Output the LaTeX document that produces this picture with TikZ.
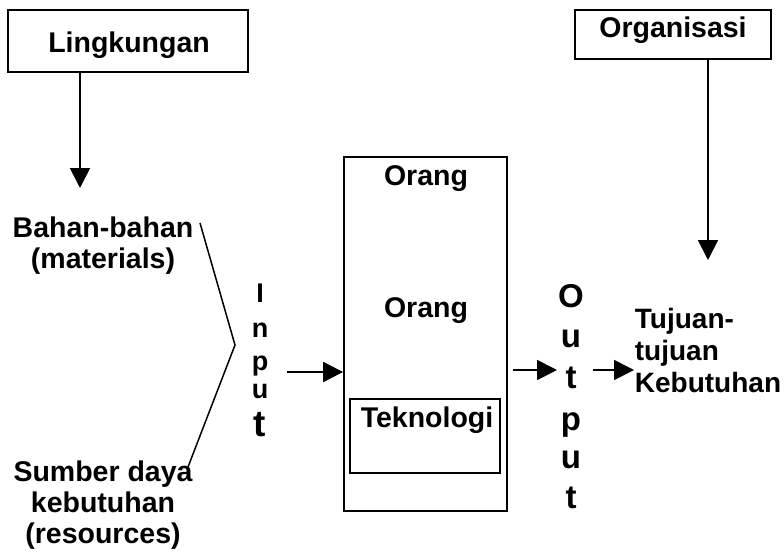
\documentclass[tikz,border=0pt]{standalone}
\usepackage{fontspec}
\setmainfont{Liberation Sans}
\usetikzlibrary{arrows.meta}

\begin{document}
\begin{tikzpicture}[x=1pt, y=-1pt, line width=1.8pt,
  box/.style={draw, rectangle, inner sep=0pt},
  lbl/.style={font=\fontsize{28.5}{31}\selectfont\bfseries, inner sep=0pt},
  inletter/.style={font=\fontsize{27}{27}\selectfont\bfseries, inner sep=0pt, anchor=base},
  outletter/.style={font=\fontsize{33}{33}\selectfont\bfseries, inner sep=0pt, anchor=base},
  arr/.style={-{Triangle[length=20pt,width=20pt]}}]
\useasboundingbox (0,0) rectangle (784,552);

% top boxes
\node[box, minimum width=240pt, minimum height=62pt] (ling) at (128,41) {};
\node[lbl, anchor=base] (lingtxt) at (129,52) {Lingkungan};
\node[box, minimum width=196pt, minimum height=49pt] (org) at (673,34.5) {};
\node[lbl, anchor=base] (orgtxt) at (673,37) {Organisasi};

\coordinate (lingend) at (80,188);
\coordinate (orgend) at (708,260);
\draw[arr] (ling.south -| lingend) -- (lingend);
\draw[arr] (org.south -| orgend) -- (orgend);

% inputs
\node[lbl, align=center, anchor=north] (bahan) at (103,216) {Bahan-bahan\\(materials)};
\node[lbl, align=center, anchor=north] (sumber) at (103,460) {Sumber daya\\kebutuhan\\(resources)};
\coordinate (b1) at (200,223);
\coordinate (b2) at (235,345);
\coordinate (b3) at (188,467);
\draw[line width=1.5pt] (b1) -- (b2) -- (b3);

\node[inletter] (i1) at (260,302) {I};
\node[inletter] (i2) at (260,337) {n};
\node[inletter] (i3) at (260,370) {p};
\node[inletter] (i4) at (260,398) {u};
\node[inletter, font=\fontsize{37}{37}\selectfont\bfseries] (i5) at (260,436) {t};

% transformation box
\node[box, minimum width=163pt, minimum height=354pt] (main) at (425.5,334) {};
\node[box, minimum width=150pt, minimum height=74pt] (tek) at (425,436) {};
\node[lbl, anchor=base] (orang1) at (426,185) {Orang};
\node[lbl, anchor=base] (orang2) at (426,317) {Orang};
\node[lbl, anchor=base] (tektxt) at (427,427) {Teknologi};

\coordinate (instart) at (287,372);
\draw[arr] (instart) -- (instart -| main.west);

% outputs
\node[outletter] (o1) at (571,307) {O};
\node[outletter] (o2) at (571,347) {u};
\node[outletter] (o3) at (571,388) {t};
\node[outletter] (o4) at (571,430) {p};
\node[outletter] (o5) at (571,468) {u};
\node[outletter] (o6) at (571,508) {t};

\coordinate (outstart) at (513,370);
\coordinate (outtip) at (557,370);
\draw[arr] (outstart) -- (outtip);
\coordinate (goalstart) at (593,370);
\coordinate (goaltip) at (634,370);
\draw[arr] (goalstart) -- (goaltip);

\node[lbl, align=left, anchor=north west, font=\fontsize{28}{32}\selectfont\bfseries] (tujuan) at (634,307) {Tujuan-\\tujuan\\Kebutuhan};
\end{tikzpicture}
\end{document}
